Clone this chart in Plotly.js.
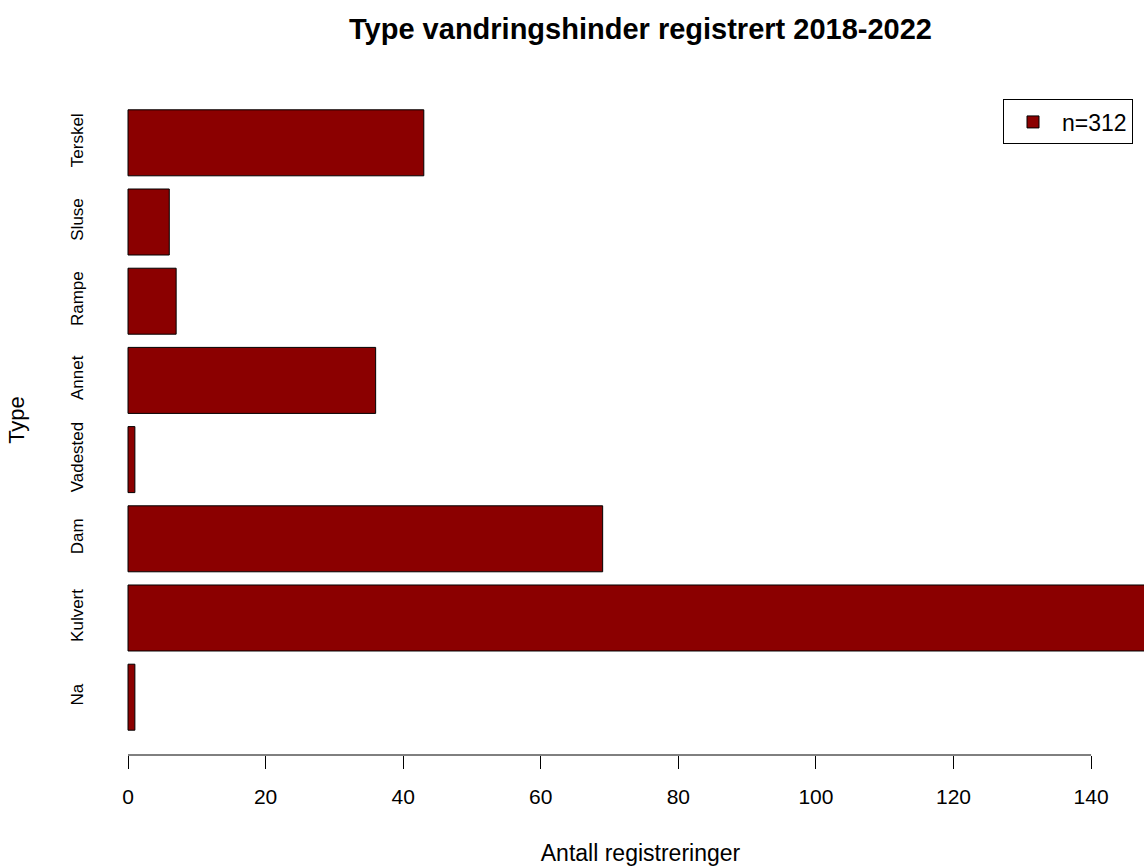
<!DOCTYPE html>
<html>
<head>
<meta charset="utf-8">
<script src="https://cdn.plot.ly/plotly-3.0.1.min.js"></script>
<style>
html, body { margin:0; padding:0; overflow:hidden; background:#fff; width:1144px; height:866px; }
#chart { width:1200px; height:866px; }
</style>
</head>
<body>
<div id="chart"></div>
<script>
// Data (bottom to top, as drawn)
const categories = ['Na', 'Kulvert', 'Dam', 'Vadested', 'Annet', 'Rampe', 'Sluse', 'Terskel'];
const counts = [1, 149, 69, 1, 36, 7, 6, 43];
const seriesName = 'n=312';
const xTicks = [0, 20, 40, 60, 80, 100, 120, 140];

const FONT = 'Liberation Sans, Arial, sans-serif';

const trace = {
  type: 'bar',
  orientation: 'h',
  x: counts,
  y: categories,
  name: seriesName,
  showlegend: true,
  marker: { color: '#8B0000', line: { color: '#000000', width: 1 } },
  hoverinfo: 'x+y'
};

const layout = {
  width: 1200,
  height: 866,
  margin: { l: 87, r: 6, t: 84.5, b: 111 },
  paper_bgcolor: '#ffffff',
  plot_bgcolor: '#ffffff',
  font: { family: FONT, color: '#000000' },
  title: {
    text: '<b>Type vandringshinder registrert 2018-2022</b>',
    font: { family: FONT, size: 29, color: '#000000' },
    x: 0.5, xref: 'paper', xanchor: 'center',
    y: 1 - 29 / 866, yref: 'container', yanchor: 'middle'
  },
  bargap: 1 / 6,
  xaxis: {
    range: [-5.96, 154.96],
    tickmode: 'array',
    tickvals: xTicks,
    ticktext: xTicks.map(String),
    ticks: 'outside',
    ticklen: 13,
    tickwidth: 1,
    tickcolor: '#000000',
    ticklabelstandoff: 10,
    tickfont: { family: FONT, size: 21, color: '#000000' },
    showline: false,
    showgrid: false,
    zeroline: false,
    title: { text: 'Antall registreringer', font: { family: FONT, size: 23, color: '#000000' }, standoff: 38 },
    automargin: false,
    fixedrange: true
  },
  yaxis: {
    type: 'category',
    categoryorder: 'array',
    categoryarray: categories,
    range: [-0.73, 7.73],
    tickangle: -90,
    ticks: '',
    ticklen: 0,
    tickfont: { family: FONT, size: 17, color: '#000000' },
    showline: false,
    showgrid: false,
    zeroline: false,
    title: { text: 'Type', font: { family: FONT, size: 22, color: '#000000' }, standoff: 36 },
    automargin: false,
    fixedrange: true
  },
  legend: {
    x: (1003 - 87) / 1107,
    y: (755.5 - 99) / 671,
    xanchor: 'left',
    yanchor: 'top',
    xref: 'paper',
    yref: 'paper',
    bgcolor: '#ffffff',
    bordercolor: '#000000',
    borderwidth: 1,
    itemwidth: 48,
    font: { family: FONT, size: 23, color: '#000000' }
  },
  shapes: [{
    type: 'line',
    xref: 'x', yref: 'paper',
    x0: xTicks[0], x1: xTicks[xTicks.length - 1],
    y0: 0, y1: 0,
    line: { color: '#000000', width: 1 }
  }]
};

Plotly.newPlot('chart', [trace], layout, { displayModeBar: false, staticPlot: true });
</script>
</body>
</html>
